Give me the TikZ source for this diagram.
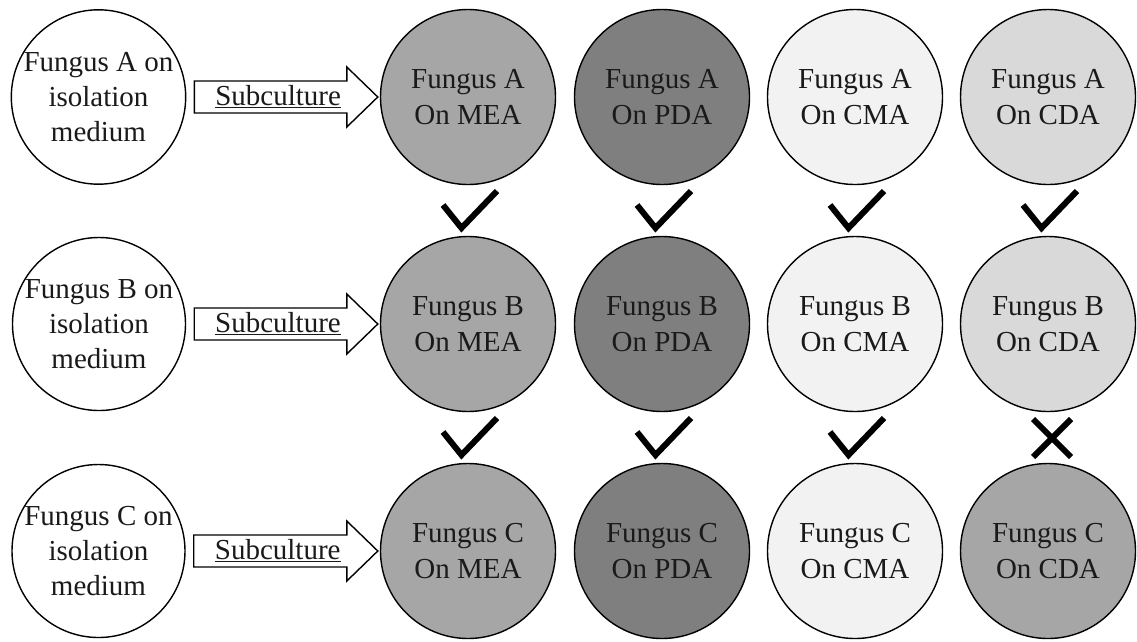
\documentclass[tikz,border=0pt]{standalone}
\usepackage{fontspec}
\setmainfont{Liberation Serif}
\usetikzlibrary{calc}
\definecolor{cmea}{HTML}{A6A6A6}
\definecolor{cpda}{HTML}{7F7F7F}
\definecolor{ccma}{HTML}{F2F2F2}
\definecolor{ccda}{HTML}{D9D9D9}
\definecolor{txt}{HTML}{1A1A1A}
\begin{document}
\begin{tikzpicture}[x=1pt,y=-1pt,
  src/.style={circle, draw, line width=1.4pt, fill=white, minimum size=173pt, inner sep=0pt, align=center, text=txt, font=\fontsize{29}{35}\selectfont},
  plate/.style={circle, draw, line width=1.4pt, minimum size=175pt, inner sep=0pt, align=center, text=txt, font=\fontsize{29}{36}\selectfont},
  tick/.style={line width=6pt, line join=miter},
  subarrow/.style={draw, line width=1.4pt, fill=white, line join=miter},
  sublabel/.style={inner sep=0pt, text=txt, font=\fontsize{29}{35}\selectfont}]
\useasboundingbox[fill=white] (0,0) rectangle (1137,641);

% source circles
\node[src] (L1) at (98.5,97) {Fungus A on\\isolation\\medium};
\node[src] (L2) at (99,324) {Fungus B on\\isolation\\medium};
\node[src] (L3) at (98.5,551) {Fungus C on\\isolation\\medium};

% plates
\foreach \r/\y/\f in {1/97/A,2/324/B,3/551/C}{
  \node[plate, fill=cmea] (M\r) at (468,\y) {Fungus \f\\On MEA};
  \node[plate, fill=cpda] (P\r) at (662,\y) {Fungus \f\\On PDA};
  \node[plate, fill=ccma] (C\r) at (855,\y) {Fungus \f\\On CMA};
}
\node[plate, fill=ccda] (D1) at (1048,97) {Fungus A\\On CDA};
\node[plate, fill=ccda] (D2) at (1048,324) {Fungus B\\On CDA};
\node[plate, fill=cmea] (D3) at (1048,551) {Fungus C\\On CDA};

% subculture arrows
\foreach \r in {1,2,3}{
  \draw[subarrow] ($(L\r.east)+(8,-16)$) -- ($(M\r.west)+(-33,-16)$) -- ($(M\r.west)+(-33,-30)$)
     -- ($(M\r.west)+(-2,0)$) -- ($(M\r.west)+(-33,30)$) -- ($(M\r.west)+(-33,16)$)
     -- ($(L\r.east)+(8,16)$) -- cycle;
  \node[sublabel] (S\r) at ($(L\r.east)!0.5!(M\r.west)+(-5,0)$) {\underline{Subculture}};
}

% check marks
\foreach \c in {M,P,C,D}{
  \draw[tick] ($(\c1.center)+(-25,108)$) -- ++(18.5,23) -- ++(35.5,-37);
}
\foreach \c in {M,P,C}{
  \draw[tick] ($(\c2.center)+(-25,108)$) -- ++(18.5,23) -- ++(35.5,-37);
}
% cross
\draw[tick] ($(D2.center)+(-15,95)$) -- ($(D2.center)+(23,133)$);
\draw[tick] ($(D2.center)+(23,95)$) -- ($(D2.center)+(-15,133)$);
\end{tikzpicture}
\end{document}
